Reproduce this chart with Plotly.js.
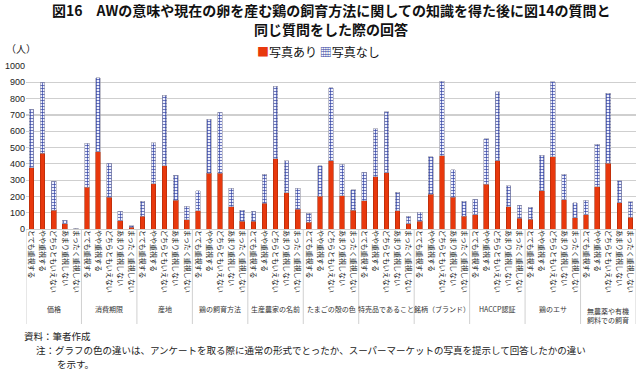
<!DOCTYPE html>
<html>
<head>
<meta charset="utf-8">
<script src="https://cdn.plot.ly/plotly-3.0.1.min.js"></script>
<style>html,body{margin:0;padding:0;background:#fff;}#chart{width:640px;height:373px;}</style>
</head>
<body>
<div id="chart"></div>
<script>
const categories = ["とても重視する","やや重視する","どちらともいえない","あまり重視しない","まったく重視しない"];
const groups = ["価格","消費期限","産地","鶏の飼育方法","生産農家の名前","たまごの殻の色","特売品であること","銘柄（ブランド）","HACCP認証","鶏のエサ","無農薬や有機<br>飼料での飼育"];
const photoYes = [
  375,465,116,33,1,
  255,475,194,51,10,
  78,277,388,175,57,
  112,341,341,137,49,
  49,159,430,222,122,
  41,200,420,204,116,
  173,322,345,112,31,
  49,214,449,196,78,
  88,275,420,137,65,
  59,235,443,180,69,
  88,259,404,161,71
];
const photoNo = [
  360,435,178,22,4,
  271,453,208,59,10,
  93,253,432,155,82,
  123,332,375,114,67,
  61,178,445,196,129,
  55,188,447,194,125,
  174,294,375,114,47,
  55,229,459,169,91,
  94,280,423,128,80,
  74,218,461,157,92,
  87,261,428,135,96
];
const seriesNames = ["写真あり","写真なし"];
const yTicks = [0,100,200,300,400,500,600,700,800,900,1000];
const titleLines = ["図16　AWの意味や現在の卵を産む鶏の飼育方法に関しての知識を得た後に図14の質問と","同じ質問をした際の回答"];

const FONT = "'Noto Sans CJK JP', 'Noto Sans', sans-serif";
const RED = '#e8380d', BLUE = '#3040a0';
const W = 640, H = 373;
const M = {l:26, r:4, t:66, b:144};
const plotH = H - M.t - M.b, plotW = W - M.l - M.r;
const py = p => (H - M.b - p) / plotH;   // pixel y -> paper y
const px = p => (p - M.l) / plotW;       // pixel x -> paper x

const xIdx = [], tickText = [];
groups.forEach((g, gi) => categories.forEach((c, ci) => { xIdx.push(gi*categories.length + ci); tickText.push(c); }));

const traces = [
  {type:'bar', name:seriesNames[0], x:xIdx, y:photoYes, width:0.42,
   marker:{color:RED, line:{color:'#a82a08', width:0.6}}},
  {type:'bar', name:seriesNames[1], x:xIdx, y:photoNo, width:0.42,
   marker:{color:'#ffffff', line:{color:'#9a9aaa', width:0.6},
     pattern:{shape:'+', fgcolor:BLUE, bgcolor:'#eef0ff', size:3, solidity:0.4}}}
];

const annotations = [];
const shapes = [];
groups.forEach((g, gi) => {
  const multi = g.indexOf('<br>') >= 0;
  annotations.push({xref:'x', yref:'paper', x: gi*5+2, y: py(multi ? 315 : 309), text:g, showarrow:false,
    xanchor:'center', yanchor:'middle', font:{family:FONT, size:7, color:'#333'}});
});
for (let gi = 0; gi <= groups.length; gi++) {
  shapes.push({type:'line', xref:'x', yref:'paper', x0: gi*5-0.5, x1: gi*5-0.5, y0: 0, y1: py(324),
    line:{color:'#d0d0d0', width:1}});
}
// title (two lines)
titleLines.forEach((t, i) => {
  annotations.push({xref:'paper', yref:'paper', x:0.5, y:py(10 + i*19), text:'<b>'+t+'</b>',
    showarrow:false, xanchor:'center', yanchor:'middle', font:{family:FONT, size:14, color:'#111'}});
});
// legend (compact, built from series names)
annotations.push({xref:'paper', yref:'paper', x:px(318), y:py(51),
  text:'<span style="color:'+RED+'">■</span>'+seriesNames[0]+' <span style="color:'+BLUE+'">▦</span>'+seriesNames[1],
  showarrow:false, xanchor:'center', yanchor:'middle', font:{family:FONT, size:12, color:'#111'}});
annotations.push({xref:'paper', yref:'paper', x:px(4), y:py(49), text:'（人）', showarrow:false,
  xanchor:'left', yanchor:'middle', font:{family:FONT, size:10, color:'#222'}});
annotations.push({xref:'paper', yref:'paper', x:px(22), y:py(336), text:'資料：筆者作成', showarrow:false,
  xanchor:'left', yanchor:'middle', font:{family:FONT, size:9.5, color:'#222'}});
annotations.push({xref:'paper', yref:'paper', x:px(34), y:py(350), text:'注：グラフの色の違いは、アンケートを取る際に通常の形式でとったか、スーパーマーケットの写真を提示して回答したかの違い', showarrow:false,
  xanchor:'left', yanchor:'middle', font:{family:FONT, size:9.5, color:'#222'}});
annotations.push({xref:'paper', yref:'paper', x:px(55), y:py(364), text:'を示す。', showarrow:false,
  xanchor:'left', yanchor:'middle', font:{family:FONT, size:9.5, color:'#222'}});

const layout = {
  width:W, height:H, margin:M, paper_bgcolor:'#fff', plot_bgcolor:'#fff',
  barmode:'stack',
  font:{family:FONT, color:'#222'},
  showlegend:false,
  xaxis:{range:[-0.5, 54.5], tickmode:'array', tickvals:xIdx, ticktext:tickText, tickangle:90,
    tickfont:{family:FONT, size:7, color:'#222'}, showgrid:false, zeroline:false, showline:false, ticks:'', fixedrange:true},
  yaxis:{range:[0,1000], tickmode:'array', tickvals:yTicks, ticktext:yTicks.map(String),
    tickfont:{family:'Liberation Sans, Arial, sans-serif', size:9, color:'#222'}, gridcolor:'#cfcfcf', gridwidth:1.2,
    zeroline:true, zerolinecolor:'#cfcfcf', showline:false, ticks:''},
  shapes:shapes, annotations:annotations
};

Plotly.newPlot('chart', traces, layout, {displayModeBar:false, staticPlot:true});
</script>
</body>
</html>
